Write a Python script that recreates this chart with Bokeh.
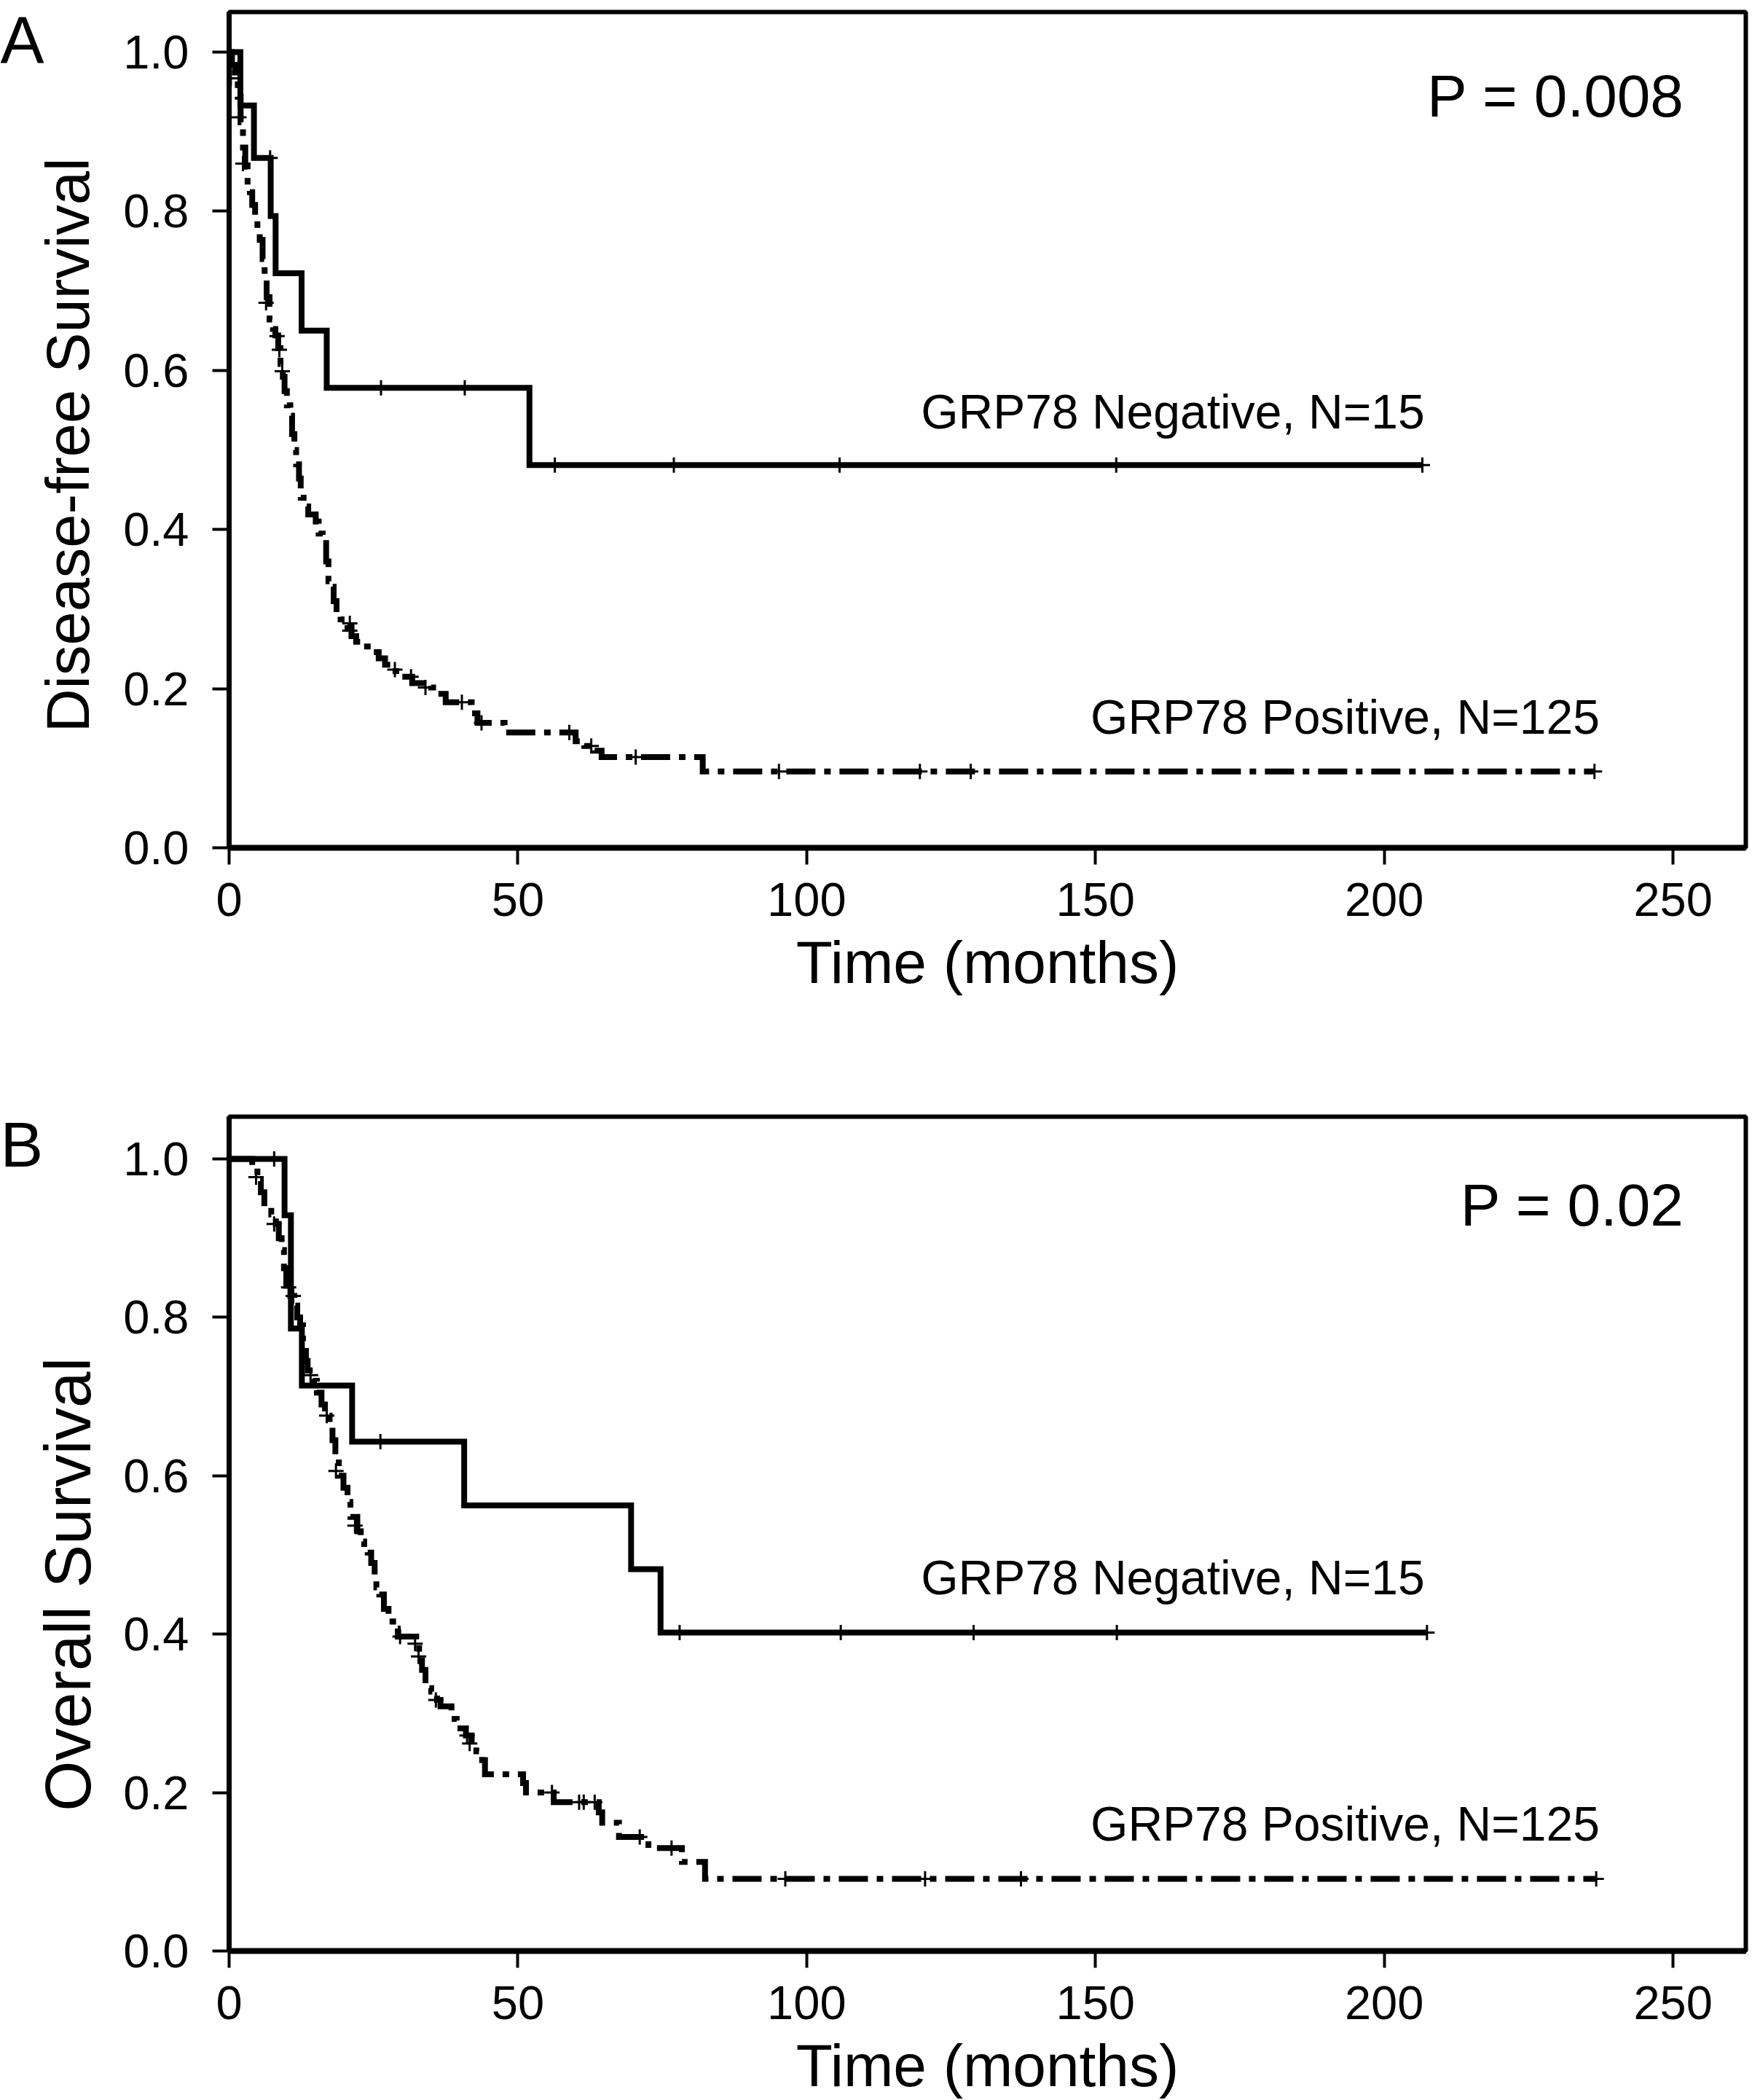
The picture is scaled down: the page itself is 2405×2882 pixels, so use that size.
import math
from bokeh.plotting import figure
from bokeh.models import Range1d, FixedTicker, Label, PrintfTickFormatter
from bokeh.layouts import column, row
from bokeh.core.properties import value
from bokeh.embed import file_html
from bokeh.resources import INLINE

FONT = "Liberation Sans"

# ---------------- data ----------------
x_ticks = [0, 50, 100, 150, 200, 250]
y_ticks = [0.0, 0.2, 0.4, 0.6, 0.8, 1.0]

# Panel A: disease-free survival
a_neg_t = [0, 1.95, 4.3, 7.2, 8.05, 12.55, 16.9, 52.0, 206.6]
a_neg_s = [1.0, 0.933, 0.867, 0.794, 0.722, 0.650, 0.578, 0.481, 0.481]
a_neg_cens_t = [7.1, 26.3, 40.8, 56.4, 77.0, 105.7, 153.6, 206.6]
a_neg_cens_s = [0.867, 0.578, 0.578, 0.481, 0.481, 0.481, 0.481, 0.481]

a_pos_t = [0, 0.5, 1.0, 1.5, 2.0, 2.4, 2.8, 3.2, 3.6, 4.0, 4.5, 4.9, 5.3, 5.8, 6.15, 6.5,
           7.0, 7.6, 8.0, 8.5, 8.9, 9.3, 9.6, 10.0, 10.6, 10.9, 11.3, 11.6, 12.1, 12.4,
           12.9, 13.7, 15.0, 15.5, 16.2, 16.8, 17.2, 17.6, 18.1, 18.6, 19.3, 20.5, 21.2,
           22.0, 23.0, 25.0, 25.9, 27.0, 28.0, 29.7, 31.7, 35.0, 36.0, 37.5, 42.0, 43.0,
           47.7, 60.0, 61.5, 63.3, 64.5, 82.0, 236.4]
a_pos_s = [1.0, 0.984, 0.968, 0.944, 0.912, 0.880, 0.856, 0.832, 0.824, 0.808, 0.792, 0.776,
           0.764, 0.740, 0.716, 0.692, 0.664, 0.652, 0.644, 0.628, 0.608, 0.592, 0.574, 0.556,
           0.543, 0.520, 0.500, 0.482, 0.464, 0.440, 0.429, 0.419, 0.410, 0.395, 0.383, 0.360,
           0.335, 0.328, 0.310, 0.296, 0.287, 0.277, 0.266, 0.259, 0.253, 0.246, 0.238, 0.230,
           0.222, 0.215, 0.207, 0.2015, 0.1935, 0.183, 0.169, 0.157, 0.145, 0.134, 0.128,
           0.122, 0.114, 0.096, 0.096]
a_pos_cens_t = [0.3, 1.7, 2.4, 6.4, 8.3, 8.7, 9.2, 20.9, 20.9, 28.7, 31.5, 34.0, 40.3, 43.7,
                58.9, 62.7, 70.4, 95.2, 119.6, 128.4, 236.4]
a_pos_cens_s = [0.967, 0.918, 0.860, 0.685, 0.643, 0.626, 0.599, 0.282, 0.273, 0.224, 0.215,
                0.2015, 0.183, 0.157, 0.145, 0.128, 0.114, 0.096, 0.096, 0.096, 0.096]

# Panel B: overall survival
b_neg_t = [0, 9.6, 10.7, 12.6, 21.3, 40.7, 69.6, 74.7, 207.4]
b_neg_s = [1.0, 0.929, 0.786, 0.714, 0.643, 0.5625, 0.482, 0.402, 0.402]
b_neg_cens_t = [7.8, 26.2, 78.0, 105.9, 128.9, 153.7, 207.4]
b_neg_cens_s = [1.0, 0.643, 0.402, 0.402, 0.402, 0.402, 0.402]

b_pos_t = [0, 4.0, 4.9, 5.5, 6.1, 7.3, 8.1, 8.6, 9.1, 9.5, 9.9, 10.6, 11.3, 11.8, 12.3, 12.8,
           13.3, 13.6, 14.5, 15.2, 16.0, 16.6, 17.4, 17.9, 18.4, 19.0, 19.8, 20.5, 21.0, 22.2,
           22.8, 23.4, 24.0, 24.6, 25.2, 25.5, 26.0, 26.8, 27.6, 28.4, 29.2, 32.4, 32.9, 33.4,
           34.0, 35.0, 36.0, 36.6, 38.5, 39.4, 41.0, 42.0, 42.8, 43.8, 44.3, 50.9, 51.4, 56.2,
           64.0, 64.6, 67.5, 72.6, 78.4, 82.4, 236.7]
b_pos_s = [1.0, 0.99, 0.972, 0.958, 0.94, 0.93, 0.918, 0.90, 0.885, 0.862, 0.84, 0.827, 0.815,
           0.80, 0.79, 0.77, 0.745, 0.733, 0.72, 0.705, 0.69, 0.676, 0.661, 0.645, 0.622, 0.60,
           0.585, 0.567, 0.548, 0.53, 0.517, 0.508, 0.503, 0.49, 0.47, 0.459, 0.45, 0.432,
           0.416, 0.407, 0.397, 0.388, 0.372, 0.355, 0.332, 0.3275, 0.317, 0.309, 0.293, 0.281,
           0.272, 0.262, 0.252, 0.241, 0.223, 0.212, 0.200, 0.188, 0.175, 0.162, 0.144, 0.130,
           0.1125, 0.091, 0.091]
b_pos_cens_t = [4.67, 7.8, 10.3, 11.1, 14.1, 16.9, 18.5, 21.8, 29.6, 32.2, 32.8, 35.8, 41.2,
                41.65, 55.9, 60.6, 61.4, 63.3, 71.1, 76.6, 96.3, 120.5, 137.1, 236.7]
b_pos_cens_s = [0.977, 0.918, 0.838, 0.827, 0.727, 0.676, 0.606, 0.537, 0.397, 0.388, 0.372,
                0.317, 0.272, 0.262, 0.200, 0.188, 0.188, 0.188, 0.144, 0.130, 0.091, 0.091,
                0.091, 0.091]

panels = [
    dict(letter="A", ylabel="Disease-free Survival", pval="P = 0.008",
         neg=(a_neg_t, a_neg_s, a_neg_cens_t, a_neg_cens_s),
         pos=(a_pos_t, a_pos_s, a_pos_cens_t, a_pos_cens_s),
         neg_lab_y=0.5266, pos_lab_y=0.1429, p_y=0.9185,
         ylab_y=0.506, ylab_fs=83, ylab_base_x=122,
         letter_fs=90, letter_base_y=0.986,
         frame_h=1147, y_end=1.0504, top=16, bottom=205),
    dict(letter="B", ylabel="Overall Survival", pval="P = 0.02",
         neg=(b_neg_t, b_neg_s, b_neg_cens_t, b_neg_cens_s),
         pos=(b_pos_t, b_pos_s, b_pos_cens_t, b_pos_cens_s),
         neg_lab_y=0.450, pos_lab_y=0.139, p_y=0.916,
         ylab_y=0.463, ylab_fs=89, ylab_base_x=124,
         letter_fs=88, letter_base_y=0.990,
         frame_h=1145, y_end=1.0534, top=164, bottom=204),
]

SIDE_W = 150          # side strip (panel letter + y title)
FRAME_W = 2082
X_END = 262.6
MID = 0.35            # renderer anchors text ~0.35 em above its baseline

rows = []
for cfg in panels:
    top, fh, bot, yend = cfg["top"], cfg["frame_h"], cfg["bottom"], cfg["y_end"]
    ppu = fh / yend
    yr = Range1d(0, yend)

    p = figure(frame_width=FRAME_W, frame_height=fh,
               x_range=Range1d(0, X_END), y_range=yr,
               output_backend="svg", toolbar_location=None, title=None,
               min_border_left=314 - SIDE_W, min_border_right=6,
               min_border_top=top, min_border_bottom=bot)
    p.grid.visible = False
    p.outline_line_color = "black"
    p.outline_line_width = 6
    p.background_fill_color = "white"
    p.border_fill_color = "white"

    # axes
    p.xaxis.ticker = FixedTicker(ticks=x_ticks)
    p.yaxis.ticker = FixedTicker(ticks=y_ticks)
    p.yaxis.formatter = PrintfTickFormatter(format="%.1f")
    for ax in (p.xaxis, p.yaxis):
        ax.major_tick_in = 0
        ax.major_tick_out = 23
        ax.minor_tick_line_color = None
        ax.major_tick_line_width = 4
        ax.major_tick_line_color = "black"
        ax.axis_line_color = "black"
        ax.major_label_text_font = FONT
        ax.major_label_text_font_size = "65px"
        ax.major_label_text_color = "black"
    p.xaxis.axis_line_width = 8
    p.yaxis.axis_line_width = 7
    p.xaxis.major_label_standoff = 25
    p.yaxis.major_label_standoff = 32
    p.xaxis.axis_label = "Time (months)"
    p.xaxis.axis_label_text_font = FONT
    p.xaxis.axis_label_text_font_size = "82px"
    p.xaxis.axis_label_text_font_style = "normal"
    p.xaxis.axis_label_text_color = "black"
    p.xaxis.axis_label_standoff = 15

    # curves
    nt, ns, nct, ncs = cfg["neg"]
    pt, ps, pct, pcs = cfg["pos"]
    p.step(x=nt, y=ns, mode="after", line_color="black", line_width=8,
           line_join="miter")
    p.step(x=pt, y=ps, mode="after", line_color="black", line_width=8,
           line_join="miter", line_dash="40 12 9 12")
    p.scatter(x=nct, y=ncs, marker="cross", size=21, line_width=3,
              line_color="black")
    p.scatter(x=pct, y=pcs, marker="cross", size=21, line_width=3,
              line_color="black")

    # in-plot texts (y given as baseline, shifted to the renderer's anchor)
    def lab(x, y_base, text, fs):
        p.add_layout(Label(x=x, y=y_base + MID * fs / ppu, text=text, text_font=FONT,
                           text_font_size=f"{fs}px", text_align="right",
                           text_baseline="alphabetic", text_color="black"))
    lab(252.0, cfg["p_y"], cfg["pval"], 82)
    lab(207.0, cfg["neg_lab_y"], "GRP78 Negative, N=15", 66)
    lab(237.3, cfg["pos_lab_y"], "GRP78 Positive, N=125", 66)

    # side figure sharing the vertical scale: panel letter + rotated y title
    s = figure(frame_width=SIDE_W, frame_height=fh,
               x_range=Range1d(0, SIDE_W), y_range=yr,
               output_backend="svg", toolbar_location=None, title=None,
               x_axis_type=None, y_axis_type=None,
               min_border_left=0, min_border_right=0,
               min_border_top=top, min_border_bottom=bot)
    s.grid.visible = False
    s.outline_line_color = None
    s.background_fill_color = "white"
    s.border_fill_color = "white"

    lfs = cfg["letter_fs"]
    s.text(x=[0], y=[cfg["letter_base_y"] + MID * lfs / ppu], text=[cfg["letter"]],
           text_font=value(FONT), text_font_size=value(f"{lfs}px"),
           text_align="left", text_baseline="alphabetic", text_color="black")

    fs = cfg["ylab_fs"]
    s.text(x=[cfg["ylab_base_x"] - MID * fs], y=[cfg["ylab_y"]], text=[cfg["ylabel"]],
           angle=math.pi / 2, text_font=value(FONT), text_font_size=value(f"{fs}px"),
           text_align="center", text_baseline="alphabetic", text_color="black")

    rows.append(row(s, p, spacing=0))

layout = column(*rows, spacing=0)
open("out.html", "w").write(file_html(layout, INLINE))
